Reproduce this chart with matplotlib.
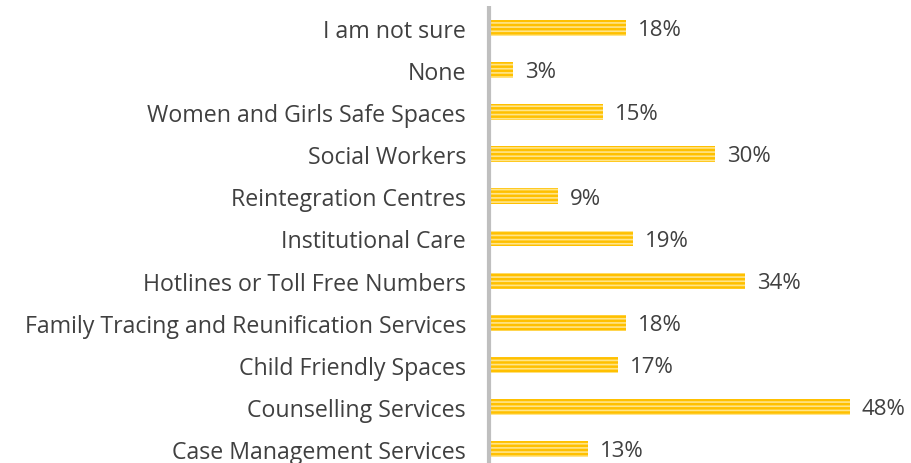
import matplotlib
matplotlib.use("Agg")
import matplotlib.pyplot as plt

categories = ["I am not sure", "None", "Women and Girls Safe Spaces", "Social Workers",
              "Reintegration Centres", "Institutional Care", "Hotlines or Toll Free Numbers",
              "Family Tracing and Reunification Services", "Child Friendly Spaces",
              "Counselling Services", "Case Management Services"]
values = [18, 3, 15, 30, 9, 19, 34, 18, 17, 48, 13]

plt.rcParams["font.family"] = ["Open Sans", "DejaVu Sans"]
plt.rcParams["hatch.linewidth"] = 1.2

fig = plt.figure(figsize=(9.11, 4.64), dpi=100)
ax = fig.add_axes([489 / 911, 0, 422 / 911, 1])

pos = list(range(len(categories)))
ax.barh(pos, values, height=0.38, color="#FFC000", edgecolor="#FFE58A",
        hatch="----", linewidth=0, left=0.25)

# percentage labels just right of each bar
for y, v in zip(pos, values):
    ax.text(v + 0.25 + 1.6, y + 0.04, f"{v}%", va="center", ha="left",
            fontsize=16, color="#404040")

ax.set_xlim(0, 56.4)
ax.set_ylim(10 + 14 / 42.1, -29 / 42.1)
ax.set_yticks(pos)
ax.set_yticklabels(categories, fontsize=16.7, color="#404040")
ax.tick_params(axis="y", length=0, pad=16.5)
ax.set_xticks([])
for s in ax.spines.values():
    s.set_visible(False)
ax.plot([0, 0], [-22 / 42.1, 10 + 14 / 42.1], color="#BFBFBF", lw=3,
        clip_on=False, solid_capstyle="butt")

fig.savefig("out.png", dpi=100)
